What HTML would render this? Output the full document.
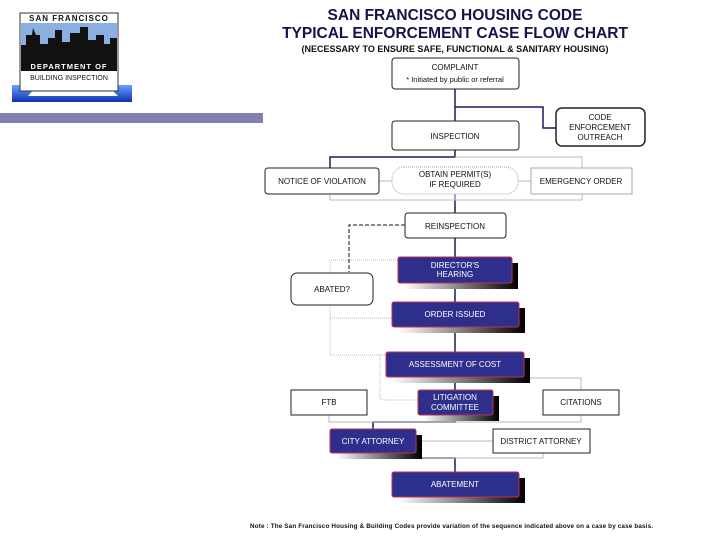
<!DOCTYPE html>
<html><head><style>
html,body{margin:0;padding:0;background:#fff;width:720px;height:540px;overflow:hidden}
svg{position:absolute;left:0;top:0}
text{font-family:"Liberation Sans",sans-serif}
</style></head><body>
<svg width="720" height="540" viewBox="0 0 720 540">
<defs>
<linearGradient id="sh" x1="0" y1="0" x2="1" y2="0"><stop offset="0" stop-color="#fff"/><stop offset="1" stop-color="#000"/></linearGradient>
<linearGradient id="lg" x1="0" y1="0" x2="0" y2="1"><stop offset="0" stop-color="#6aa0ff"/><stop offset="1" stop-color="#1030b0"/></linearGradient>
</defs>
<!-- logo -->
<rect x="12" y="85" width="120" height="17" fill="url(#lg)"/>
<polygon points="35,88 110,88 118,96 28,96" fill="#fff"/>
<rect x="20" y="13" width="98" height="78" fill="#fff" stroke="#333" stroke-width="1"/>
<text x="69" y="21" font-size="8" font-weight="bold" text-anchor="middle" fill="#111" letter-spacing="1">SAN FRANCISCO</text>
<rect x="21" y="23" width="96" height="37" fill="#8ab0e0"/>
<path d="M21,60 L21,45 L26,45 L26,35 L32,35 L33,28 L36,35 L40,35 L40,44 L48,44 L48,38 L55,38 L55,30 L62,30 L62,42 L70,42 L70,33 L80,33 L80,27 L88,27 L88,40 L96,40 L96,35 L104,35 L104,44 L110,44 L110,38 L117,38 L117,60Z" fill="#111"/>
<rect x="21" y="60" width="96" height="11" fill="#111"/>
<text x="69" y="69" font-size="7.5" font-weight="bold" text-anchor="middle" fill="#fff" letter-spacing="1">DEPARTMENT OF</text>
<text x="69" y="80" font-size="7" text-anchor="middle" fill="#111">BUILDING INSPECTION</text>
<rect x="0" y="113" width="263" height="10" fill="#8080b4"/>
<!-- titles -->
<g fill="#14144a" font-weight="bold" text-anchor="middle">
<text x="455" y="20" font-size="15.5">SAN FRANCISCO HOUSING CODE</text>
<text x="455" y="38" font-size="15.5">TYPICAL ENFORCEMENT CASE FLOW CHART</text>
<text x="455" y="52" font-size="9" fill="#111">(NECESSARY TO ENSURE SAFE, FUNCTIONAL &amp; SANITARY HOUSING)</text>
</g>
<!-- connectors -->
<g fill="none" stroke-width="1.5" stroke="#1a1a60">
<path d="M455,89 V121"/>
<path d="M455,107 H543 V128 H556"/>
<path d="M455,150 V157 H330 V168"/>
<path d="M455,194 V213"/>
<path d="M455,238 V257"/>
<path d="M455,283 V302 M455,327 V352 M455,377 V390 M455,415 V422 H373 V429"/>
<path d="M373,453 V458 H455 V472"/>
</g>
<g fill="none" stroke="#bbb" stroke-width="1">
<path d="M455,157 H582 V168"/>
<path d="M379,181 H392 M518,181 H531"/>
<path d="M455,194 V200"/>
<path d="M330,194 V200 H582 V194"/>
<path d="M330,273 V260 H398" stroke-dasharray="1,1"/>
<path d="M330,305 V355 H386" stroke-dasharray="1,1"/>
<path d="M330,318 H392" stroke-dasharray="1,1"/>
<path d="M380,355 V398 Q380,400 385,400 H418" stroke-dasharray="1,1"/>
<path d="M329,415 V422 H581 V378 H524"/>
<path d="M581,415 V422"/>
<path d="M416,441 H493"/>
<path d="M338,453 V458 H543 V453"/>
</g>
<path d="M405,225 H349 V272" fill="none" stroke="#111" stroke-width="1" stroke-dasharray="4,2"/>
<!-- white boxes -->
<g fill="#fff" stroke="#222" stroke-width="1">
<rect x="392" y="58" width="127" height="31" rx="3"/>
<rect x="556" y="108" width="89" height="38" rx="6" stroke-width="1.5"/>
<rect x="392" y="121" width="127" height="29" rx="3"/>
<rect x="265" y="168" width="114" height="26" rx="3"/>
<rect x="392" y="167" width="126" height="27" rx="12" stroke="#aaa" stroke-dasharray="1,1"/>
<rect x="531" y="168" width="101" height="26" stroke="#aaa"/>
<rect x="405" y="213" width="101" height="25" rx="3"/>
<rect x="291" y="273" width="82" height="32" rx="6"/>
<rect x="291" y="390" width="76" height="25"/>
<rect x="543" y="390" width="76" height="25"/>
<rect x="493" y="429" width="97" height="24"/>
</g>
<!-- blue boxes -->
<g>
<g transform="translate(398,257)"><rect x="6" y="6" width="114" height="26" fill="url(#sh)"/><rect width="114" height="26" rx="2" fill="#2e2e8c" stroke="#c03050"/></g>
<g transform="translate(392,302)"><rect x="6" y="6" width="127" height="25" fill="url(#sh)"/><rect width="127" height="25" rx="2" fill="#2e2e8c" stroke="#c03050"/></g>
<g transform="translate(386,352)"><rect x="6" y="6" width="138" height="25" fill="url(#sh)"/><rect width="138" height="25" rx="2" fill="#2e2e8c" stroke="#c03050"/></g>
<g transform="translate(418,390)"><rect x="6" y="6" width="75" height="25" fill="url(#sh)"/><rect width="75" height="25" rx="2" fill="#2e2e8c" stroke="#c03050"/></g>
<g transform="translate(330,429)"><rect x="6" y="6" width="86" height="24" fill="url(#sh)"/><rect width="86" height="24" rx="2" fill="#2e2e8c" stroke="#c03050"/></g>
<g transform="translate(392,472)"><rect x="6" y="6" width="127" height="25" fill="url(#sh)"/><rect width="127" height="25" rx="2" fill="#2e2e8c" stroke="#c03050"/></g>
</g>
<!-- labels -->
<g font-size="8" text-anchor="middle" fill="#111">
<text x="455" y="70">COMPLAINT</text>
<text x="455" y="82" font-size="7.5">* Initiated by public or referral</text>
<text x="600" y="120">CODE</text>
<text x="600" y="130">ENFORCEMENT</text>
<text x="600" y="140">OUTREACH</text>
<text x="455" y="139">INSPECTION</text>
<text x="322" y="184">NOTICE OF VIOLATION</text>
<text x="455" y="177">OBTAIN PERMIT(S)</text>
<text x="455" y="187">IF REQUIRED</text>
<text x="581" y="184">EMERGENCY ORDER</text>
<text x="455" y="229">REINSPECTION</text>
<text x="332" y="292">ABATED?</text>
<text x="329" y="405">FTB</text>
<text x="581" y="405">CITATIONS</text>
<text x="541" y="444">DISTRICT ATTORNEY</text>
</g>
<g font-size="8" text-anchor="middle" fill="#fff">
<text x="455" y="268">DIRECTOR'S</text>
<text x="455" y="277">HEARING</text>
<text x="455" y="317">ORDER ISSUED</text>
<text x="455" y="367">ASSESSMENT OF COST</text>
<text x="455" y="400">LITIGATION</text>
<text x="455" y="410">COMMITTEE</text>
<text x="373" y="444">CITY ATTORNEY</text>
<text x="455" y="487">ABATEMENT</text>
</g>
<text x="250" y="528" font-size="6.3" font-weight="bold" fill="#111" textLength="403">Note : The San Francisco Housing &amp; Building Codes provide variation of the sequence indicated above on a  case by case basis.</text>
</svg>
</body></html>
